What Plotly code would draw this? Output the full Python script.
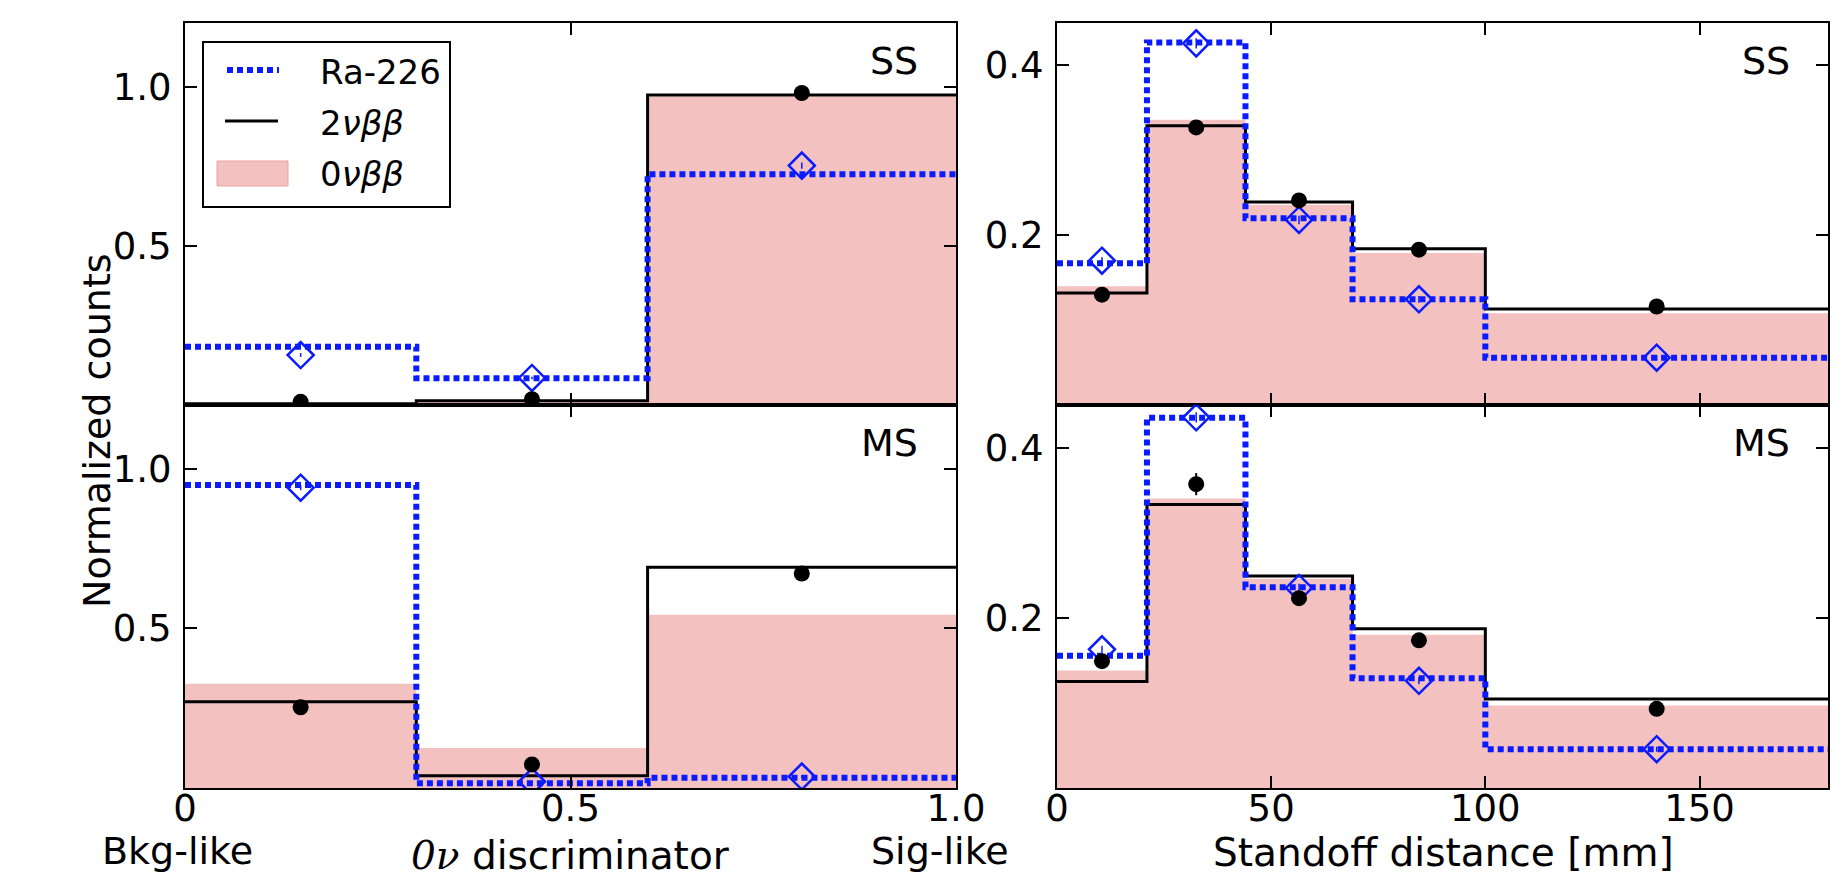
import plotly.graph_objects as go

# ---- binning ----
disc_edges = [0.0, 0.3, 0.6, 1.0]
disc_centers = [0.15, 0.45, 0.8]
standoff_edges = [0, 21, 44, 69, 100, 180]
standoff_centers = [10.5, 32.5, 56.5, 84.5, 140]

# ---- single-site (SS), discriminator ----
ra_mc_disc_ss = [0.183, 0.084, 0.725]
ra_data_disc_ss = [0.157, 0.085, 0.752]
ra_err_disc_ss = [0.006, 0.004, 0.010]
bb2_mc_disc_ss = [0.004, 0.013, 0.974]
bb2_data_disc_ss = [0.010, 0.018, 0.980]
bb2_err_disc_ss = [0.002, 0.003, 0.006]
bb0_disc_ss = [0.002, 0.010, 0.969]

# ---- multi-site (MS), discriminator ----
ra_mc_disc_ms = [0.949, 0.015, 0.032]
ra_data_disc_ms = [0.941, 0.020, 0.036]
ra_err_disc_ms = [0.008, 0.003, 0.004]
bb2_mc_disc_ms = [0.270, 0.038, 0.692]
bb2_data_disc_ms = [0.253, 0.074, 0.672]
bb2_err_disc_ms = [0.008, 0.005, 0.010]
bb0_disc_ms = [0.327, 0.125, 0.543]

# ---- single-site (SS), standoff distance ----
ra_mc_so_ss = [0.167, 0.427, 0.220, 0.1245, 0.0557]
ra_data_so_ss = [0.170, 0.426, 0.218, 0.1245, 0.0557]
ra_err_so_ss = [0.004, 0.006, 0.005, 0.004, 0.003]
bb2_mc_so_ss = [0.132, 0.329, 0.239, 0.184, 0.113]
bb2_data_so_ss = [0.130, 0.327, 0.241, 0.183, 0.116]
bb2_err_so_ss = [0.003, 0.005, 0.004, 0.004, 0.003]
bb0_so_ss = [0.140, 0.336, 0.236, 0.179, 0.108]

# ---- multi-site (MS), standoff distance ----
ra_mc_so_ms = [0.1555, 0.435, 0.236, 0.129, 0.0456]
ra_data_so_ms = [0.163, 0.4355, 0.235, 0.126, 0.0456]
ra_err_so_ms = [0.004, 0.006, 0.005, 0.004, 0.003]
bb2_mc_so_ms = [0.125, 0.333, 0.249, 0.187, 0.1045]
bb2_data_so_ms = [0.149, 0.357, 0.223, 0.1735, 0.093]
bb2_err_so_ms = [0.006, 0.013, 0.008, 0.007, 0.005]
bb0_so_ms = [0.138, 0.340, 0.246, 0.180, 0.097]

# ---- style ----
FONT = "DejaVu Sans"
BLUE = "#0a1bff"
PINK = "#f4c1c1"
PINK_EDGE = "#eaa3a3"
DOTS = "6px,4px"

W, H = 1841, 889
ML, MR, MT, MB = 185, 13, 23, 101


def px_x(p):
    return (p - ML) / (W - ML - MR)


def px_y(p):
    return (H - MB - p) / (H - MT - MB)


def stepped(vals):
    return list(vals) + [vals[-1]]


fig = go.Figure()

panels = [
    # (xaxis, yaxis, edges, centers, bb0, bb2_mc, bb2_data, bb2_err, ra_mc, ra_data, ra_err)
    ("x", "y", disc_edges, disc_centers, bb0_disc_ss, bb2_mc_disc_ss, bb2_data_disc_ss,
     bb2_err_disc_ss, ra_mc_disc_ss, ra_data_disc_ss, ra_err_disc_ss),
    ("x2", "y2", standoff_edges, standoff_centers, bb0_so_ss, bb2_mc_so_ss, bb2_data_so_ss,
     bb2_err_so_ss, ra_mc_so_ss, ra_data_so_ss, ra_err_so_ss),
    ("x3", "y3", disc_edges, disc_centers, bb0_disc_ms, bb2_mc_disc_ms, bb2_data_disc_ms,
     bb2_err_disc_ms, ra_mc_disc_ms, ra_data_disc_ms, ra_err_disc_ms),
    ("x4", "y4", standoff_edges, standoff_centers, bb0_so_ms, bb2_mc_so_ms, bb2_data_so_ms,
     bb2_err_so_ms, ra_mc_so_ms, ra_data_so_ms, ra_err_so_ms),
]

for (xa, ya, edges, centers, bb0, bb2_mc, bb2_data, bb2_err,
     ra_mc, ra_data, ra_err) in panels:
    # 0vbb signal shape, filled histogram
    fig.add_trace(go.Scatter(
        x=edges, y=stepped(bb0), xaxis=xa, yaxis=ya, mode="lines",
        line=dict(shape="hv", width=0, color=PINK), fill="tozeroy",
        fillcolor=PINK, showlegend=False, hoverinfo="skip"))
    # 2vbb MC, solid step line
    fig.add_trace(go.Scatter(
        x=edges, y=stepped(bb2_mc), xaxis=xa, yaxis=ya, mode="lines",
        line=dict(shape="hv", width=3, color="black"),
        showlegend=False, hoverinfo="skip"))
    # Ra-226 MC, dotted step line
    fig.add_trace(go.Scatter(
        x=edges, y=stepped(ra_mc), xaxis=xa, yaxis=ya, mode="lines",
        line=dict(shape="hv", width=6, color=BLUE, dash=DOTS),
        showlegend=False, hoverinfo="skip"))
    # Ra-226 calibration data
    fig.add_trace(go.Scatter(
        x=centers, y=ra_data, xaxis=xa, yaxis=ya, mode="markers",
        marker=dict(symbol="diamond-open", size=20, color=BLUE,
                    line=dict(width=2.5, color=BLUE)),
        error_y=dict(type="data", array=ra_err, color=BLUE, thickness=1.5, width=0),
        showlegend=False))
    # 2vbb data
    fig.add_trace(go.Scatter(
        x=centers, y=bb2_data, xaxis=xa, yaxis=ya, mode="markers",
        marker=dict(symbol="circle", size=16, color="black"),
        error_y=dict(type="data", array=bb2_err, color="black", thickness=2, width=0),
        showlegend=False))

left_dom = [0.0, px_x(956)]
right_dom = [px_x(1057), 1.0]
top_dom = [px_y(405), 1.0]
bot_dom = [0.0, px_y(405)]

axis_common = dict(
    showline=True, linecolor="black", linewidth=2, mirror="allticks",
    ticks="inside", ticklen=12, tickwidth=1.5, tickcolor="black",
    showgrid=False, zeroline=False,
    tickfont=dict(family=FONT, size=37, color="black"),
)

disc_ticks = dict(tickvals=[0, 0.5, 1.0], ticktext=["0", "0.5", "1.0"])
so_ticks = dict(tickvals=[0, 50, 100, 150], ticktext=["0", "50", "100", "150"])

fig.update_layout(
    width=W, height=H,
    margin=dict(l=ML, r=MR, t=MT, b=MB, autoexpand=False),
    plot_bgcolor="white", paper_bgcolor="white",
    font=dict(family=FONT, color="black"),
    showlegend=False,
    xaxis=dict(domain=left_dom, anchor="y", range=[0, 1.0], showticklabels=False,
               **disc_ticks, **axis_common),
    yaxis=dict(domain=top_dom, anchor="x", range=[0, 1.2], tickvals=[0.5, 1.0],
               ticktext=["0.5", "1.0"], ticklabelstandoff=4, **axis_common),
    xaxis2=dict(domain=right_dom, anchor="y2", range=[0, 180], showticklabels=False,
                **so_ticks, **axis_common),
    yaxis2=dict(domain=top_dom, anchor="x2", range=[0, 0.45], tickvals=[0.2, 0.4],
                ticktext=["0.2", "0.4"], ticklabelstandoff=4, **axis_common),
    xaxis3=dict(domain=left_dom, anchor="y3", range=[0, 1.0], **disc_ticks,
                ticklabelstandoff=-13, **axis_common),
    yaxis3=dict(domain=bot_dom, anchor="x3", range=[0, 1.2], tickvals=[0.5, 1.0],
                ticktext=["0.5", "1.0"], ticklabelstandoff=4, **axis_common),
    xaxis4=dict(domain=right_dom, anchor="y4", range=[0, 180], **so_ticks,
                ticklabelstandoff=-13, **axis_common),
    yaxis4=dict(domain=bot_dom, anchor="x4", range=[0, 0.45], tickvals=[0.2, 0.4],
                ticktext=["0.2", "0.4"], ticklabelstandoff=4, **axis_common),
)

annotations = []


def text(px, py, s, size, xanchor="center", yanchor="middle", angle=0):
    annotations.append(dict(
        x=px_x(px), y=px_y(py), xref="paper", yref="paper", text=s,
        showarrow=False, xanchor=xanchor, yanchor=yanchor, textangle=angle,
        font=dict(family=FONT, size=size, color="black")))


# panel tags
text(920, 61, "SS", 38, xanchor="right")
text(1792, 61, "SS", 38, xanchor="right")
text(920, 443, "MS", 38, xanchor="right")
text(1792, 443, "MS", 38, xanchor="right")

# axis labels
text(97, 431, "Normalized counts", 38, angle=-90)
text(1443, 853, "Standoff distance [mm]", 39)
text(570, 856,
     '<span style="font-family:DejaVu Serif;font-style:italic">0ν</span> discriminator', 39)
text(177, 851, "Bkg-like", 38)
text(940, 851, "Sig-like", 38)

# legend entries
text(318, 72, "Ra-226", 34, xanchor="left")
text(318, 123, "2<i>νββ</i>", 34, xanchor="left")
text(318, 174, "0<i>νββ</i>", 34, xanchor="left")
fig.update_layout(annotations=annotations)

shapes = [
    # legend frame
    dict(type="rect", xref="paper", yref="paper",
         x0=px_x(203), x1=px_x(450), y0=px_y(42), y1=px_y(207),
         line=dict(color="black", width=2), fillcolor="white", layer="above"),
    dict(type="line", xref="paper", yref="paper",
         x0=px_x(227), x1=px_x(279), y0=px_y(70), y1=px_y(70),
         line=dict(color=BLUE, width=6, dash=DOTS), layer="above"),
    dict(type="line", xref="paper", yref="paper",
         x0=px_x(225), x1=px_x(278), y0=px_y(121), y1=px_y(121),
         line=dict(color="black", width=3), layer="above"),
    dict(type="rect", xref="paper", yref="paper",
         x0=px_x(217), x1=px_x(288), y0=px_y(161), y1=px_y(186),
         line=dict(color=PINK_EDGE, width=1), fillcolor=PINK, layer="above"),
]
fig.update_layout(shapes=shapes)

fig.write_html("out.html")
